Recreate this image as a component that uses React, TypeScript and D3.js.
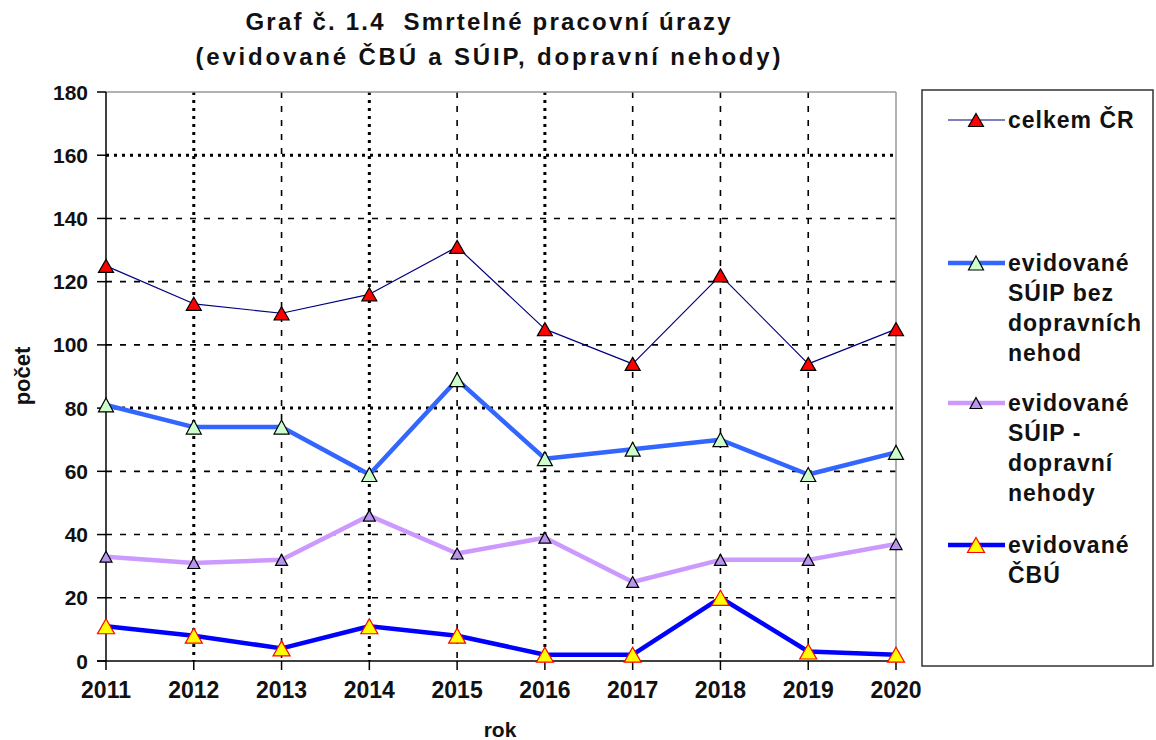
import React from "react";
import * as d3 from "d3";

const years = ["2011", "2012", "2013", "2014", "2015", "2016", "2017", "2018", "2019", "2020"];
const celkemCR = [125, 113, 110, 116, 131, 105, 94, 122, 94, 105];
const suipBez = [81, 74, 74, 59, 89, 64, 67, 70, 59, 66];
const suipDoprava = [33, 31, 32, 46, 34, 39, 25, 32, 32, 37];
const cbu = [11, 8, 4, 11, 8, 2, 2, 20, 3, 2];
const yTicks = [0, 20, 40, 60, 80, 100, 120, 140, 160, 180];

const titleLines = ["Graf č. 1.4  Smrtelné pracovní úrazy", "(evidované ČBÚ a SÚIP, dopravní nehody)"];

const series = [
  { name: ["celkem ČR"], values: celkemCR, line: "#000080", lw: 1.2, fill: "#ff0000", stroke: "#000", mw: 15, mh: 13, ly: 120 },
  { name: ["evidované", "SÚIP bez", "dopravních", "nehod"], values: suipBez, line: "#3366ff", lw: 4.5, fill: "#ccffcc", stroke: "#000", mw: 15, mh: 14, ly: 263 },
  { name: ["evidované", "SÚIP -", "dopravní", "nehody"], values: suipDoprava, line: "#cc99ff", lw: 4.5, fill: "#b996ee", stroke: "#000", mw: 12, mh: 11, ly: 403 },
  { name: ["evidované", "ČBÚ"], values: cbu, line: "#0000ff", lw: 4.5, fill: "#ffff00", stroke: "#ff0000", mw: 17, mh: 15, ly: 545 },
];

const font = "'Liberation Sans', Arial, sans-serif";

function tri(x: number, y: number, w: number, h: number) {
  return `M${x},${y - h / 2}L${x + w / 2},${y + h / 2}L${x - w / 2},${y + h / 2}Z`;
}

export default function App() {
  const width = 1156;
  const height = 740;

  const x = d3.scalePoint<string>().domain(years).range([106, 896]);
  const y = d3.scaleLinear().domain([0, 180]).range([661, 92]);

  const line = d3
    .line<number>()
    .x((_, i) => x(years[i]) as number)
    .y((d) => y(d));

  const heavyY = [80, 160];
  const heavyX = ["2012", "2014", "2016"];

  return (
    <svg width={width} height={height} style={{ position: "absolute", left: 0, top: 0, background: "#fff" }} fontFamily={font}>
      {/* title */}
      {titleLines.map((t, i) => (
        <text
          key={t}
          x={488}
          y={30 + i * 35}
          textAnchor="middle"
          fontSize={24}
          fontWeight="bold"
          textLength={i === 0 ? 485 : 585}
          lengthAdjust="spacing"
          fill="#111"
          style={{ whiteSpace: "pre" }}
        >
          {t}
        </text>
      ))}

      {/* horizontal grid */}
      {yTicks.filter((t) => t > 0 && t < 180).map((t) => {
        const heavy = heavyY.includes(t);
        return (
          <line
            key={"h" + t}
            x1={x("2011")}
            x2={x("2020")}
            y1={y(t)}
            y2={y(t)}
            stroke="#000"
            strokeWidth={heavy ? 3 : 1.6}
            strokeDasharray={heavy ? "3,5" : "6,8"}
          />
        );
      })}
      {/* vertical grid */}
      {years.slice(1, -1).map((yr) => {
        const heavy = heavyX.includes(yr);
        return (
          <line
            key={"v" + yr}
            x1={x(yr)}
            x2={x(yr)}
            y1={y(180)}
            y2={y(0)}
            stroke="#000"
            strokeWidth={heavy ? 3 : 1.6}
            strokeDasharray={heavy ? "3,5" : "6,8"}
          />
        );
      })}

      {/* plot border top/right */}
      <line x1={x("2011")} x2={x("2020")} y1={y(180)} y2={y(180)} stroke="#999" strokeWidth={1.5} />
      <line x1={x("2020")} x2={x("2020")} y1={y(180)} y2={y(0)} stroke="#999" strokeWidth={1.5} />

      {/* axes */}
      <line x1={x("2011")} x2={x("2011")} y1={y(180)} y2={y(0)} stroke="#000" strokeWidth={1.5} />
      <line x1={(x("2011") as number) - 9} x2={x("2020")} y1={y(0)} y2={y(0)} stroke="#000" strokeWidth={1.5} />
      {yTicks.map((t) => (
        <g key={"yt" + t}>
          <line x1={(x("2011") as number) - 9} x2={x("2011")} y1={y(t)} y2={y(t)} stroke="#000" strokeWidth={1.5} />
          <text x={88} y={y(t)} dy="0.36em" textAnchor="end" fontSize={21} fontWeight="bold" fill="#111">
            {t}
          </text>
        </g>
      ))}
      {years.map((yr) => (
        <g key={"xt" + yr}>
          <line x1={x(yr)} x2={x(yr)} y1={y(0)} y2={y(0) + 9} stroke="#000" strokeWidth={1.5} />
          <text x={x(yr)} y={698} textAnchor="middle" fontSize={23} fontWeight="bold" fill="#111">
            {yr}
          </text>
        </g>
      ))}

      <text x={500} y={737} textAnchor="middle" fontSize={21} fontWeight="bold" fill="#111">
        rok
      </text>
      <text transform="translate(30,376) rotate(-90)" textAnchor="middle" fontSize={22} fontWeight="bold" fill="#111">
        počet
      </text>

      {/* series */}
      {series.map((s, si) => (
        <g key={"s" + si}>
          <path d={line(s.values) as string} fill="none" stroke={s.line} strokeWidth={s.lw} strokeLinejoin="round" />
          {s.values.map((v, i) => (
            <path
              key={i}
              d={tri(x(years[i]) as number, y(v), s.mw, s.mh)}
              fill={s.fill}
              stroke={s.stroke}
              strokeWidth={1.2}
              strokeLinejoin="miter"
            />
          ))}
        </g>
      ))}

      {/* legend */}
      <rect x={922} y={90} width={231} height={576} fill="#fff" stroke="#333" strokeWidth={1.5} />
      {series.map((s, si) => (
        <g key={"l" + si}>
          <line x1={948} x2={1005} y1={s.ly} y2={s.ly} stroke={s.line} strokeWidth={s.lw} />
          <path d={tri(976, s.ly, s.mw, s.mh)} fill={s.fill} stroke={s.stroke} strokeWidth={1.2} />
          <text x={1008} y={s.ly} fontSize={23} fontWeight="bold" letterSpacing={1} fill="#111">
            {s.name.map((n, k) => (
              <tspan key={k} x={1008} y={s.ly + k * 30} dy="0.36em">
                {n}
              </tspan>
            ))}
          </text>
        </g>
      ))}
    </svg>
  );
}
